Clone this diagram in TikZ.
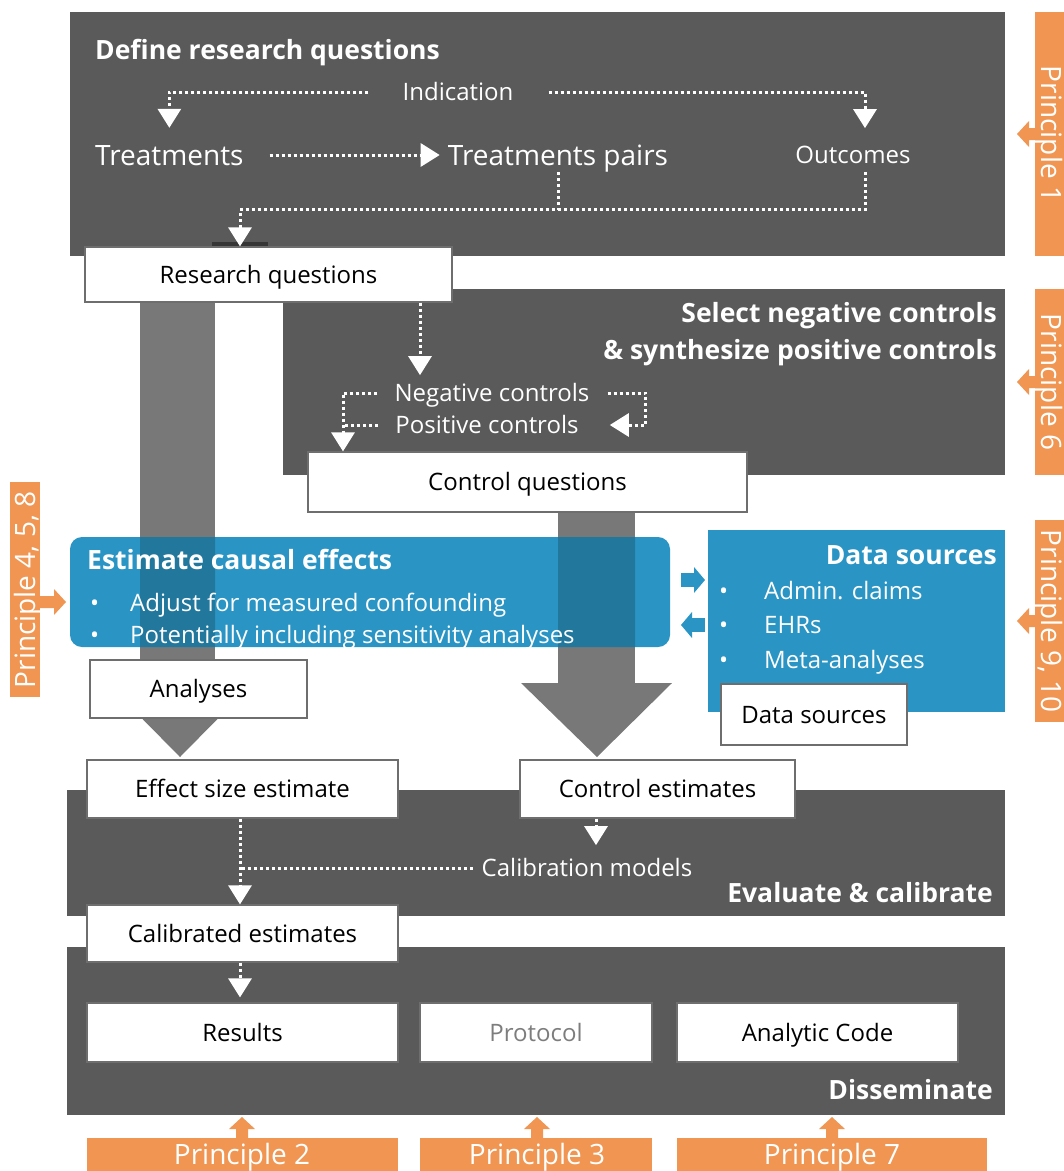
\documentclass[tikz,border=0pt]{standalone}
\usepackage{fontspec}
\setmainfont{Open Sans}
\usepackage{tikz}
\usetikzlibrary{arrows.meta,positioning}

\definecolor{panelGrey}{RGB}{90,90,90}
\definecolor{shaftGrey}{RGB}{120,120,120}
\definecolor{estBlue}{RGB}{42,149,196}
\definecolor{princOrange}{RGB}{240,150,82}
\definecolor{boxEdge}{RGB}{110,110,110}
\definecolor{protoGrey}{RGB}{125,125,125}

\tikzset{
  stagebox/.style={draw=boxEdge, fill=white, line width=1.2pt, inner sep=0pt, text height=17.3pt, text depth=0pt, font=\fontsize{24}{28}\selectfont},
  headtext/.style={text=white, inner sep=0pt, text height=19pt, text depth=0pt, font=\bfseries\fontsize{26.5}{31}\selectfont},
  bigtext/.style={text=white, inner sep=0pt, text height=20pt, text depth=0pt, font=\fontsize{28}{33}\selectfont},
  itemtext/.style={text=white, inner sep=0pt, text height=17.3pt, text depth=0pt, font=\fontsize{24}{28}\selectfont},
  princtext/.style={text=white, inner sep=0pt, text height=20pt, text depth=0pt, font=\fontsize{28}{32}\selectfont},
  dotline/.style={draw=white, line width=3pt, dash pattern=on 3pt off 3pt},
  dotflow/.style={dotline, -{Triangle[width=23pt,length=19pt]}},
}

\begin{document}
\begin{tikzpicture}[x=1pt,y=-1pt]
\useasboundingbox (0,0) rectangle (1064,1171);
% dark stage panels
\fill[panelGrey] (70,12) rectangle (1005,256);
\fill[panelGrey] (283,289) rectangle (1005,475);
\fill[panelGrey] (67,790) rectangle (1005,916);
\fill[panelGrey] (67,947) rectangle (1005,1115);
% big grey arrows
\fill[shaftGrey] (140,302) rectangle (215,690);
\fill[shaftGrey] (107,683) -- (253,683) -- (180,757) -- cycle;
\fill[shaftGrey] (558,512) rectangle (635,690);
\fill[shaftGrey] (521,683) -- (672,683) -- (597,757) -- cycle;
% blue boxes
\fill[estBlue, rounded corners=12pt] (70,537) rectangle (670,647);
\begin{scope}
  \clip[rounded corners=12pt] (70,537) rectangle (670,647);
  \fill[black, opacity=0.2] (140,537) rectangle (215,647) (558,537) rectangle (635,647);
\end{scope}
\fill[estBlue] (708,530) rectangle (1005,712);
\fill[estBlue] (681,573) rectangle (694,587);
\fill[estBlue] (694,567) -- (705,580) -- (694,593) -- cycle;
\fill[estBlue] (692,618) rectangle (705,632);
\fill[estBlue] (692,612) -- (681,625) -- (692,638) -- cycle;
\fill[panelGrey!60!black] (212,242) rectangle (268,247);

% white boxes
\node[stagebox, minimum width=367, minimum height=55] (rq) at (268.5,274.5) {Research questions};
\node[stagebox, minimum width=439, minimum height=60] (ctlq) at (527.5,482) {Control questions};
\node[stagebox, minimum width=217, minimum height=58] (anal) at (198.5,689) {Analyses};
\node[stagebox, minimum width=186, minimum height=61] (dsrc) at (814,714.5) {Data sources};
\node[stagebox, minimum width=311, minimum height=58] (effSz) at (242.5,789) {Effect size estimate};
\node[stagebox, minimum width=275, minimum height=58] (ctlEst) at (657.5,789) {Control estimates};
\node[stagebox, minimum width=311, minimum height=57] (calEst) at (242.5,933.5) {Calibrated estimates};
\node[stagebox, minimum width=311, minimum height=59] (results) at (242.5,1032.5) {Results};
\node[stagebox, minimum width=232, minimum height=59, text=protoGrey] (proto) at (536,1032.5) {Protocol};
\node[stagebox, minimum width=281, minimum height=59] (code) at (817.5,1032.5) {Analytic Code};

% define research questions
\node[headtext, anchor=west] (defHd) at (95,50) {Define research questions};
\node[itemtext] (indic) at (458,92) {Indication};
\node[bigtext, anchor=west] (treat) at (95,155) {Treatments};
\node[bigtext] (pairs) at (558,155) {Treatments pairs};
\node[itemtext] (outc) at (853,155) {Outcomes};
\draw[dotflow] ([xshift=-34pt]indic.west) -| ([yshift=17pt]treat.north);
\draw[dotflow] ([xshift=35pt]indic.east) -| ([xshift=12pt,yshift=18pt]outc.north);
\draw[dotflow] ([xshift=26pt]treat.east) -- ([xshift=-8pt]pairs.west);
\draw[dotline] ([yshift=-7pt]pairs.south) -- ++(0,38);
\draw[dotflow] ([xshift=12pt,yshift=-8pt]outc.south) -- ++(0,38) -| ([xshift=-28.5pt]rq.north);

% controls
\node[headtext, anchor=east] (selHd) at (997,313) {Select negative controls};
\node[headtext, anchor=east] (synHd) at (997,350) {\& synthesize positive controls};
\node[itemtext] (negc) at (492,393) {Negative controls};
\node[itemtext] (posc) at (487,425) {Positive controls};
\draw[dotflow] ([xshift=151.5pt]rq.south) -- ([xshift=-72pt,yshift=9pt]negc.north);
\draw[dotflow] ([xshift=-17pt]negc.west) -| ([xshift=-184.5pt]ctlq.north);
\draw[dotline] ([xshift=-17pt]posc.west) -- ++(-33,0);
\draw[dotflow] ([xshift=18pt]negc.east) -| ++(38,32) -- ([xshift=31pt]posc.east);

% estimate causal effects
\node[headtext, anchor=west] (estHd) at (87,560) {Estimate causal effects};
\node[itemtext, anchor=west] (estB1) at (90,603) {•};
\node[itemtext, anchor=west] (estI1) at (130,603) {Adjust for measured confounding};
\node[itemtext, anchor=west] (estB2) at (90,635) {•};
\node[itemtext, anchor=west] (estI2) at (130,635) {Potentially including sensitivity analyses};

% data sources
\node[headtext, anchor=east] (dataHd) at (997,555) {Data sources};
\foreach \y/\t [count=\i] in {591/Admin. claims,625/EHRs,660/Meta-analyses}
{
  \node[itemtext, anchor=west] (dsB\i) at (719,\y) {•};
  \node[itemtext, anchor=west] (dsI\i) at (764,\y) {\t};
}

% evaluate and calibrate
\node[headtext, anchor=east] (evalHd) at (993,893) {Evaluate \& calibrate};
\node[itemtext] (calib) at (587,868) {Calibration models};
\draw[dotflow] ([xshift=-61.5pt]ctlEst.south) -- ([xshift=9pt,yshift=14pt]calib.north);
\draw[dotflow] ([xshift=-2.5pt]effSz.south) -- ([xshift=-2.5pt]calEst.north);
\draw[dotline] ([xshift=-9pt]calib.west) -- (calib.west -| 240,0);
\draw[dotflow] ([xshift=-2.5pt]calEst.south) -- ([xshift=-2.5pt,yshift=5pt]results.north);

% disseminate
\node[headtext, anchor=east] (dissHd) at (993,1090) {Disseminate};

% principles
\fill[princOrange] (1035,12) rectangle (1070,256);
\fill[princOrange] (1035,289) rectangle (1070,475);
\fill[princOrange] (1035,520) rectangle (1070,722);
\fill[princOrange] (10,482) rectangle (40,697);
\fill[princOrange] (87,1138) rectangle (398,1175);
\fill[princOrange] (420,1138) rectangle (652,1175);
\fill[princOrange] (677,1138) rectangle (987,1175);
\foreach \y in {134,382,621}
  \fill[princOrange] (1017,\y) -- ++(12,-13) -- ++(0,7) -- ++(8,0) -- ++(0,12) -- ++(-8,0) -- ++(0,7) -- cycle;
\fill[princOrange] (66,602) -- ++(-12,-13) -- ++(0,7) -- ++(-16,0) -- ++(0,12) -- ++(16,0) -- ++(0,7) -- cycle;
\foreach \x in {242,537,832}
  \fill[princOrange] (\x,1117) -- ++(13,12) -- ++(-7,0) -- ++(0,11) -- ++(-12,0) -- ++(0,-11) -- ++(-7,0) -- cycle;
\node[princtext, rotate=-90] (pr1) at (1051,134) {Principle 1};
\node[princtext, rotate=-90] (pr6) at (1051,382) {Principle 6};
\node[princtext, rotate=-90] (pr9) at (1051,621) {Principle 9, 10};
\node[princtext, rotate=90] (pr4) at (25,590) {Principle 4, 5, 8};
\node[princtext] (pr2) at (242,1154) {Principle 2};
\node[princtext] (pr3) at (537,1154) {Principle 3};
\node[princtext] (pr7) at (832,1154) {Principle 7};
\end{tikzpicture}
\end{document}
